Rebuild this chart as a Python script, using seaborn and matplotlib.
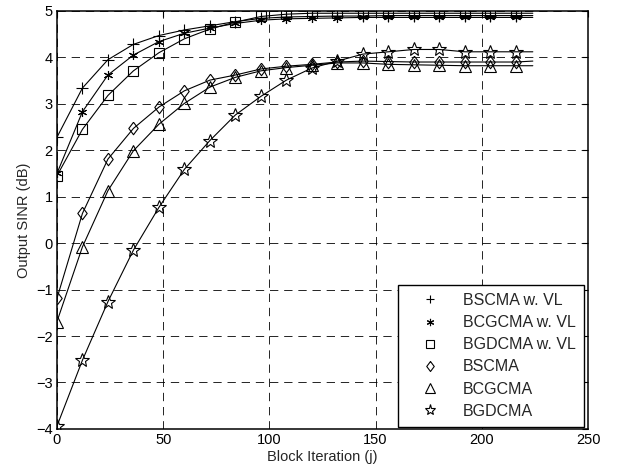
import numpy as np
import pandas as pd
import matplotlib
matplotlib.use("Agg")
import matplotlib.pyplot as plt
import seaborn as sns
from matplotlib.lines import Line2D

# -------------------------------
# Data
# -------------------------------

# marker positions every 12 block iterations, last point = end of the line
iterations = [0, 12, 24, 36, 48, 60, 72, 84, 96, 108, 120, 132, 144, 156, 168, 180, 192, 204, 216, 224]

bscma_vl = [2.28, 3.34, 3.95, 4.28, 4.47, 4.59, 4.68, 4.77, 4.84, 4.87, 4.88, 4.89, 4.89, 4.90, 4.90, 4.90, 4.90, 4.90, 4.90, 4.90]
bcgcma_vl = [1.50, 2.83, 3.62, 4.05, 4.34, 4.52, 4.63, 4.73, 4.80, 4.83, 4.84, 4.85, 4.86, 4.86, 4.86, 4.86, 4.86, 4.86, 4.86, 4.86]
bgdcma_vl = [1.45, 2.45, 3.18, 3.71, 4.10, 4.40, 4.61, 4.76, 4.88, 4.93, 4.95, 4.95, 4.95, 4.95, 4.95, 4.95, 4.95, 4.95, 4.95, 4.95]
bscma = [-1.19, 0.64, 1.81, 2.47, 2.93, 3.28, 3.51, 3.62, 3.75, 3.81, 3.85, 3.90, 3.92, 3.91, 3.90, 3.90, 3.90, 3.90, 3.90, 3.92]
bcgcma = [-1.69, -0.08, 1.13, 1.99, 2.56, 3.01, 3.36, 3.57, 3.71, 3.78, 3.83, 3.88, 3.88, 3.85, 3.84, 3.83, 3.82, 3.82, 3.82, 3.82]
bgdcma = [-3.94, -2.52, -1.26, -0.15, 0.77, 1.59, 2.21, 2.76, 3.16, 3.51, 3.77, 3.92, 4.07, 4.12, 4.17, 4.17, 4.12, 4.12, 4.12, 4.12]

labels = ["BSCMA w. VL", "BCGCMA w. VL", "BGDCMA w. VL", "BSCMA", "BCGCMA", "BGDCMA"]
series = [bscma_vl, bcgcma_vl, bgdcma_vl, bscma, bcgcma, bgdcma]

asterisk = (6, 2, 0)
diamond = [(0, 1), (0.75, 0), (0, -1), (-0.75, 0), (0, 1)]
markers = ["+", asterisk, "s", diamond, "^", "*"]
msizes = [8, 6.5, 7, 9, 8.5, 10]

# -------------------------------
# Plot
# -------------------------------

sns.set_style("white")
plt.rcParams["font.family"] = ["Liberation Sans", "DejaVu Sans"]
plt.rcParams["font.size"] = 10.5

fig = plt.figure(figsize=(6.19, 4.75), dpi=100)
ax = fig.add_axes([0.092, 0.097, 0.858, 0.880])

handles = []
for label, vals, mk, ms in zip(labels, series, markers, msizes):
    df = pd.DataFrame({"iter": iterations, "sinr": vals})
    sns.lineplot(data=df, x="iter", y="sinr", ax=ax, color="black", linewidth=0.8,
                 marker=mk, markersize=ms, markerfacecolor="none", markeredgecolor="black",
                 markeredgewidth=0.8, markevery=list(range(len(iterations) - 1)))
    handles.append(Line2D([], [], linestyle="none", marker=mk, markersize=ms * 0.8,
                          markerfacecolor="none", markeredgecolor="black",
                          markeredgewidth=0.8, label=label))

ax.set_xlim(0, 250)
ax.set_ylim(-4, 5)
ax.set_xticks(np.arange(0, 251, 50))
ax.set_yticks(np.arange(-4, 6, 1))
ax.grid(True, color="black", linestyle=(0, (10, 7)), linewidth=0.6)
ax.tick_params(direction="in", length=4, top=True, right=True, labelsize=10.5,
               colors="black", pad=3)
for sp in ax.spines.values():
    sp.set_color("black")
    sp.set_linewidth(1.1)

ax.set_xlabel("Block Iteration (j)", fontsize=10.5, labelpad=2)
ax.set_ylabel("Output SINR (dB)", fontsize=10.5, labelpad=4)

leg = ax.legend(handles=handles, loc="lower right", bbox_to_anchor=(0.9925, 0.005),
                borderaxespad=0, fancybox=False, edgecolor="black", framealpha=1,
                fontsize=11.5, handlelength=3.1, handletextpad=0.5,
                labelspacing=0.45, borderpad=0.5)
leg.get_frame().set_linewidth(1.0)

fig.savefig("out.png", dpi=100)
